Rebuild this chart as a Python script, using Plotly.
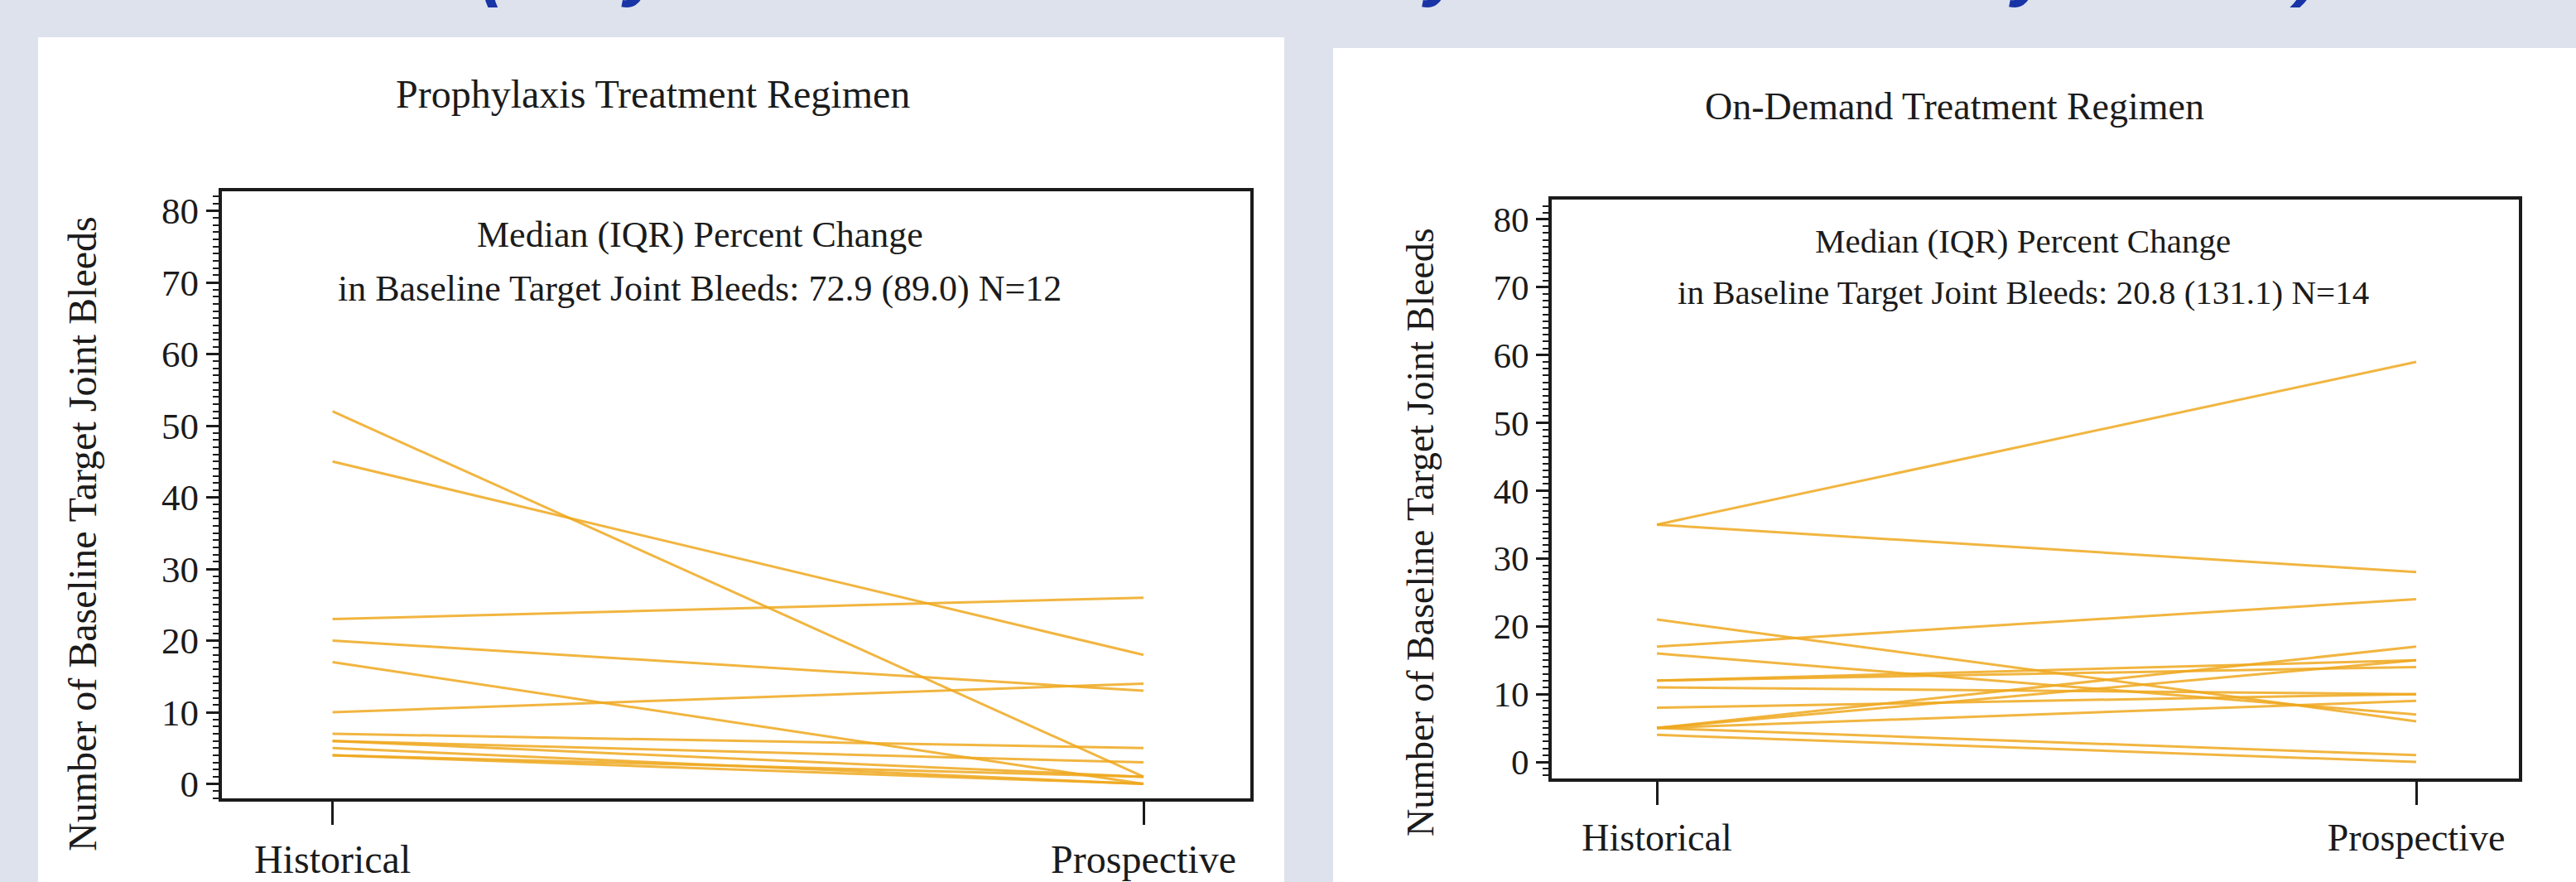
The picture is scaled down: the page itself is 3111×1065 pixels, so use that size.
import plotly.graph_objects as go

W, H = 3111, 1065

# ---------------- data ----------------
periods = ["Historical", "Prospective"]
y_tick_values = [0, 10, 20, 30, 40, 50, 60, 70, 80]

prophylaxis_historical = [52, 45, 23, 20, 17, 10, 7, 6, 6, 5, 4, 4]
prophylaxis_prospective = [1, 18, 26, 13, 0, 14, 5, 3, 1, 0, 1, 0]

ondemand_historical = [35, 35, 21, 17, 16, 12, 12, 11, 8, 5, 5, 5, 5, 4]
ondemand_prospective = [59, 28, 6, 24, 7, 15, 14, 10, 10, 17, 15, 9, 1, 0]

panel_titles = ["Prophylaxis Treatment Regimen", "On-Demand Treatment Regimen"]
stat_line1 = "Median (IQR) Percent Change"
stat_line2 = ["in Baseline Target Joint Bleeds: 72.9 (89.0) N=12",
              "in Baseline Target Joint Bleeds: 20.8 (131.1) N=14"]
y_title = "Number of Baseline Target Joint Bleeds"
# slide heading, cut off at the top edge of the picture (only descenders visible)
heading = "(Only Those Who Entered by Treatment Study Period)"

# ---------------- style ----------------
BG = "#DDE2ED"
LINE_COLOR = "rgba(239,168,30,0.85)"
TXT = "#1b1b1b"
SERIF = "Liberation Serif"


def px(x):
    return x / W


def py(y):
    return 1 - y / H


fig = go.Figure()

xpos = [0, 1]
for h, p in zip(prophylaxis_historical, prophylaxis_prospective):
    fig.add_trace(go.Scatter(x=xpos, y=[h, p], mode="lines",
                             line=dict(color=LINE_COLOR, width=3),
                             xaxis="x", yaxis="y", showlegend=False,
                             hoverinfo="skip"))
for h, p in zip(ondemand_historical, ondemand_prospective):
    fig.add_trace(go.Scatter(x=xpos, y=[h, p], mode="lines",
                             line=dict(color=LINE_COLOR, width=3),
                             xaxis="x2", yaxis="y2", showlegend=False,
                             hoverinfo="skip"))


def yaxis_cfg(domain, rng, size, anchor):
    return dict(domain=domain, range=rng, tickvals=y_tick_values,
                ticks="outside", ticklen=15, tickwidth=3, tickcolor=TXT,
                showline=True, linewidth=4, linecolor=TXT, mirror=True,
                showgrid=False, zeroline=False, anchor=anchor,
                automargin=False,
                tickfont=dict(family=SERIF, size=size, color=TXT),
                minor=dict(ticks="outside", ticklen=7, tickwidth=2,
                           tickcolor=TXT, dtick=1, showgrid=False))


def xaxis_cfg(domain, rng, size, anchor):
    return dict(domain=domain, range=rng, tickvals=xpos, ticktext=periods,
                ticks="outside", ticklen=28, tickwidth=3, tickcolor=TXT,
                showline=True, linewidth=4, linecolor=TXT, mirror=True,
                showgrid=False, zeroline=False, anchor=anchor,
                automargin=False,
                tickfont=dict(family=SERIF, size=size, color=TXT))


fig.update_layout(
    width=W, height=H,
    margin=dict(l=0, r=0, t=0, b=0, pad=0, autoexpand=False),
    paper_bgcolor=BG, plot_bgcolor="white",
    font=dict(family=SERIF, color=TXT),
    xaxis=xaxis_cfg([px(268), px(1510)], [-0.1364, 1.1317], 48, "y"),
    yaxis=yaxis_cfg([py(964), py(231)], [-2.02, 82.72], 45, "x"),
    xaxis2=xaxis_cfg([px(1874), px(3042)], [-0.1385, 1.1352], 46, "y2"),
    yaxis2=yaxis_cfg([py(940), py(241)], [-2.44, 82.93], 43, "x2"),
)

# white panels behind
fig.add_shape(type="rect", xref="paper", yref="paper",
              x0=px(46), x1=px(1551), y0=-0.01, y1=py(45),
              fillcolor="white", line_width=0, layer="below")
fig.add_shape(type="rect", xref="paper", yref="paper",
              x0=px(1610), x1=1.01, y0=-0.01, y1=py(58),
              fillcolor="white", line_width=0, layer="below")


def note(text, x, y, size, angle=0):
    return dict(text=text, x=px(x), y=py(y), xref="paper", yref="paper",
                showarrow=False, xanchor="center", yanchor="middle",
                textangle=angle,
                font=dict(family=SERIF, size=size, color=TXT))


ann = [
    note(panel_titles[0], 788, 113, 48),
    note(panel_titles[1], 2360, 128, 46),
    note(stat_line1, 845, 284, 44),
    note(stat_line2[0], 845, 349, 44),
    note(stat_line1, 2443, 291, 41),
    note(stat_line2[1], 2443, 353, 41),
    note(y_title, 99, 645, 48, -90),
    note(y_title, 1715, 643, 46, -90),
    dict(text="<b><i>" + heading + "</i></b>", x=px(578), y=py(11),
         xref="paper", yref="paper", showarrow=False,
         xanchor="left", yanchor="bottom",
         font=dict(family="Liberation Sans", size=87, color="#1834A6")),
]
fig.update_layout(annotations=ann)

fig.write_html("out.html",
               config={"displayModeBar": False},
               post_script="document.body.style.margin='0';"
                           "document.body.style.overflow='hidden';")
